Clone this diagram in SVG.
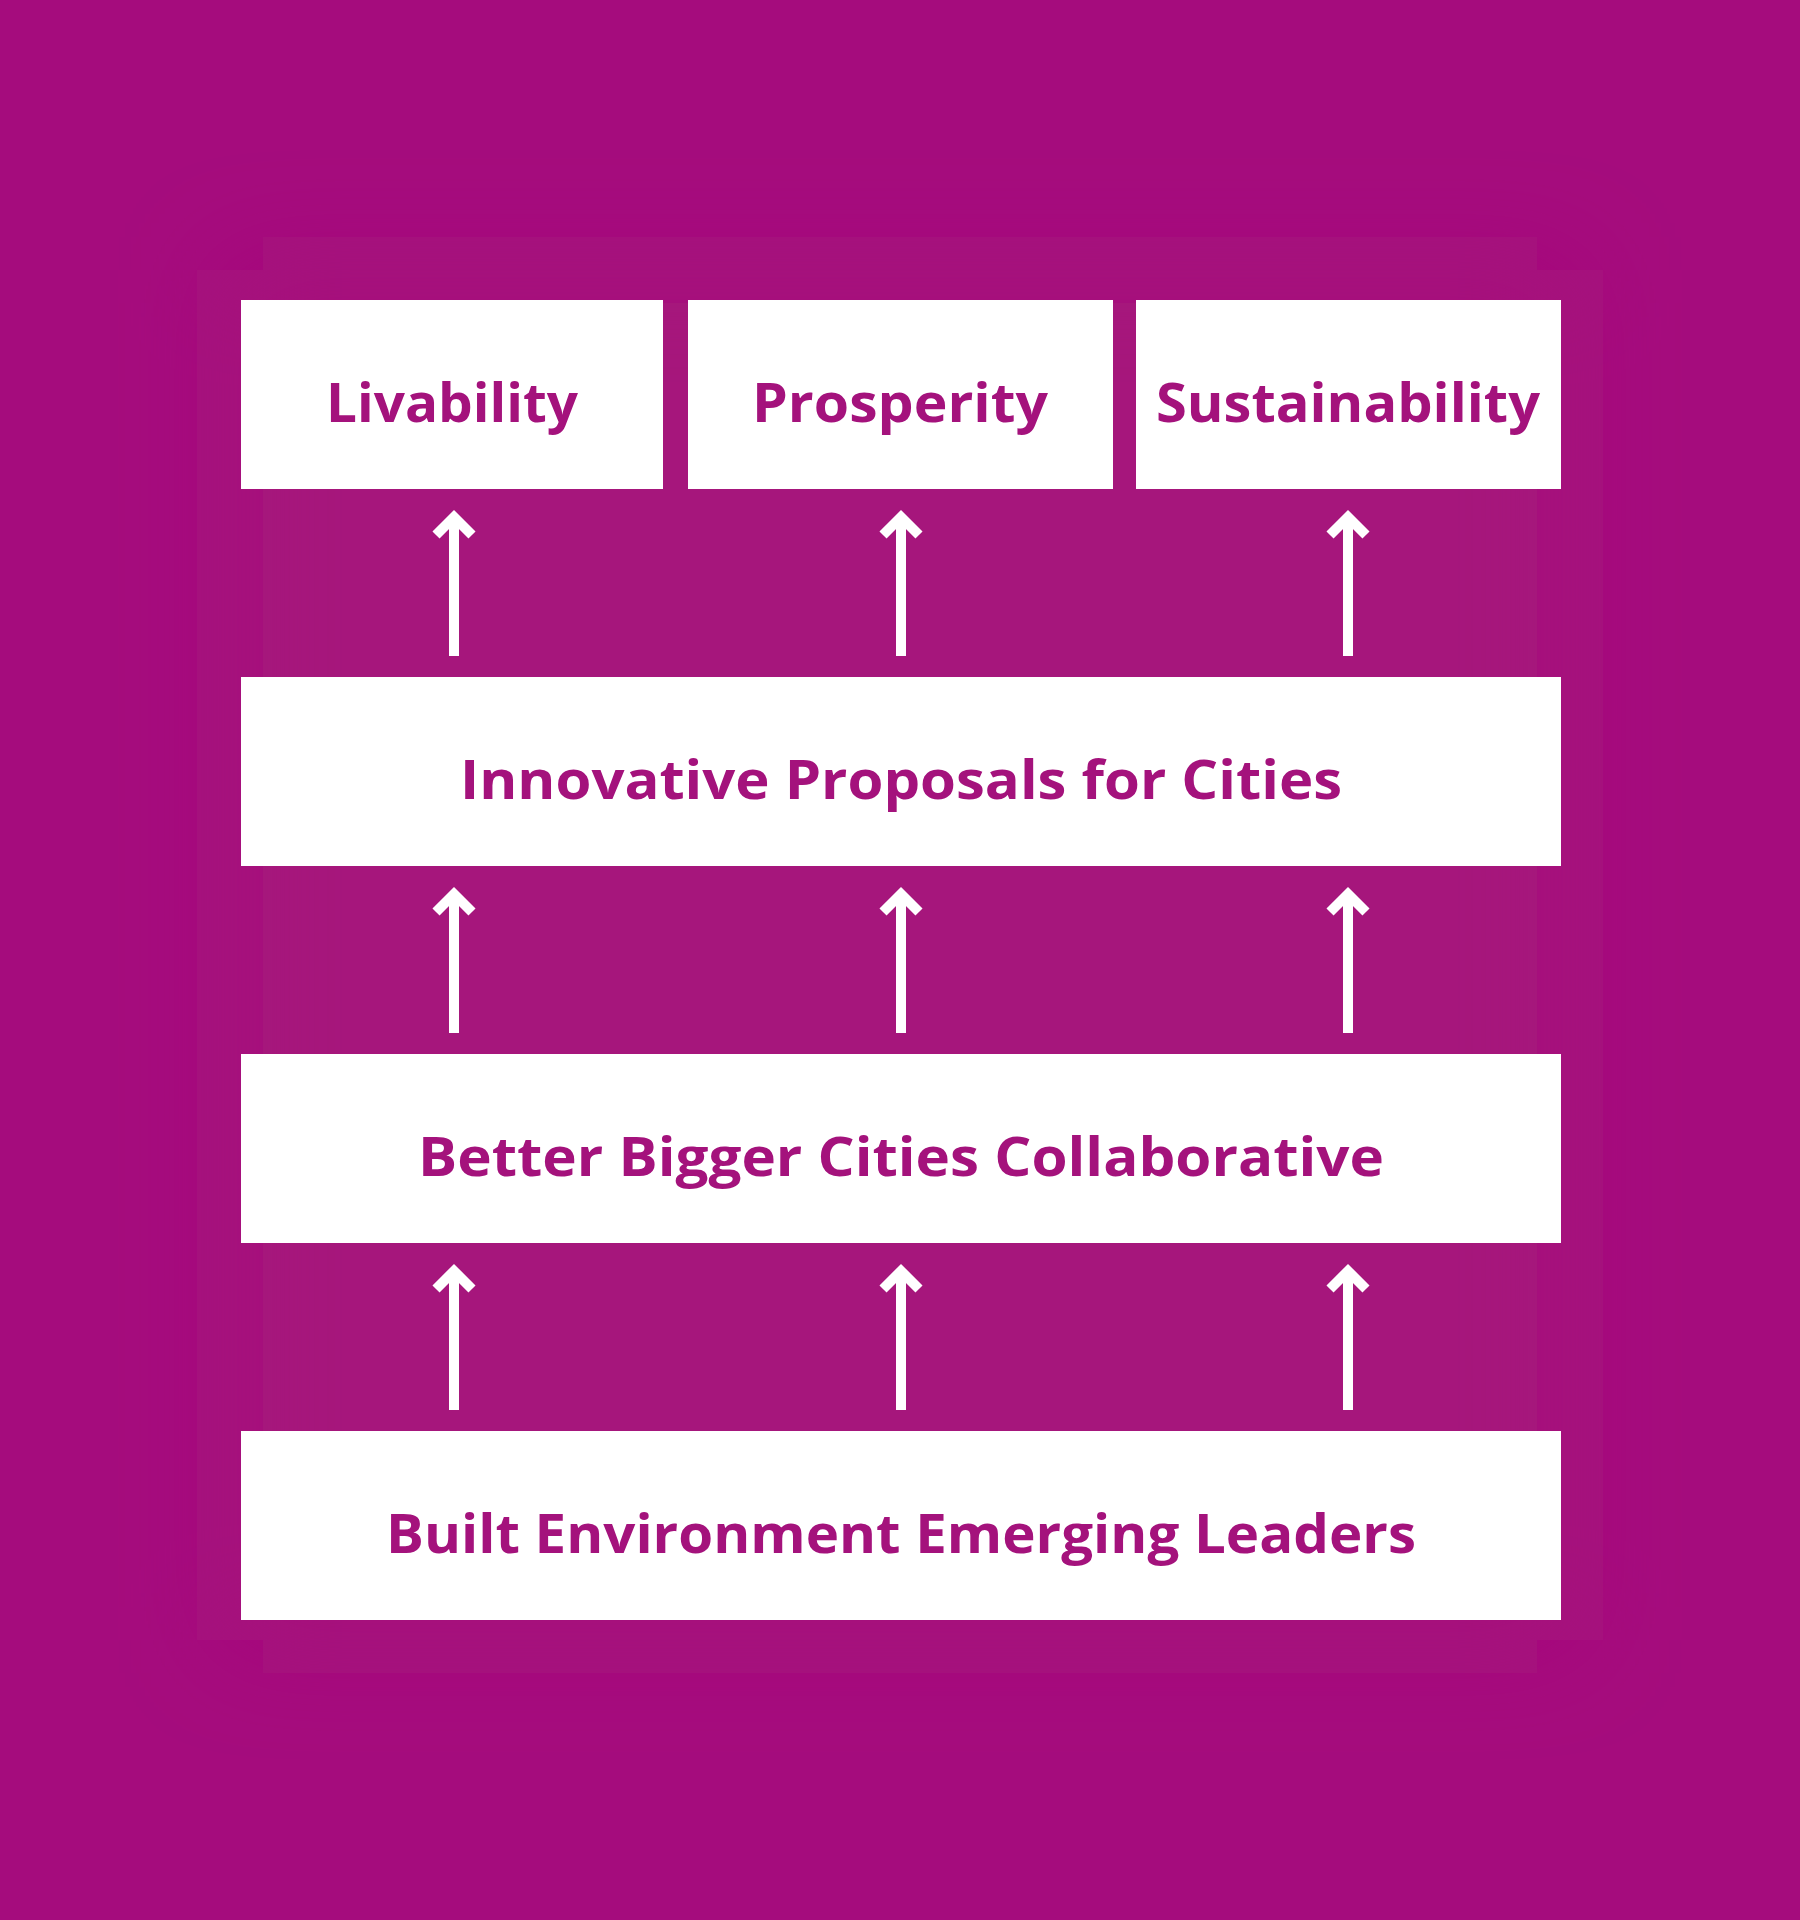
<svg xmlns="http://www.w3.org/2000/svg" width="1800" height="1920" viewBox="0 0 1800 1920">
<defs>
<filter id="soft" x="-20%" y="-20%" width="140%" height="140%"><feGaussianBlur stdDeviation="50"/></filter>
<style>
.box{fill:#ffffff}
.lbl{font-family:"Open Sans","Liberation Sans",sans-serif;font-weight:700;font-size:53px;fill:#A4127C;text-anchor:middle}
.arr{fill:none;stroke:#ffffff;stroke-width:10;stroke-linecap:butt;stroke-linejoin:miter}
</style>
</defs>
<rect x="0" y="0" width="1800" height="1920" fill="#A50C7D"/>
<rect x="230" y="270" width="1340" height="1370" fill="#A6167C" filter="url(#soft)"/>
<g id="livability"><rect class="box" x="241" y="300" width="422" height="189"/><text class="lbl" x="452" y="422" textLength="252" lengthAdjust="spacingAndGlyphs">Livability</text></g>
<g id="prosperity"><rect class="box" x="688" y="300" width="425" height="189"/><text class="lbl" x="900" y="422" textLength="296" lengthAdjust="spacingAndGlyphs">Prosperity</text></g>
<g id="sustainability"><rect class="box" x="1136" y="300" width="425" height="189"/><text class="lbl" x="1348" y="422" textLength="384" lengthAdjust="spacingAndGlyphs">Sustainability</text></g>
<g id="innovative"><rect class="box" x="241" y="677" width="1320" height="189"/><text class="lbl" x="901" y="799" textLength="882" lengthAdjust="spacingAndGlyphs">Innovative Proposals for Cities</text></g>
<g id="better"><rect class="box" x="241" y="1054" width="1320" height="189"/><text class="lbl" x="901" y="1176" textLength="966" lengthAdjust="spacingAndGlyphs">Better Bigger Cities Collaborative</text></g>
<g id="built"><rect class="box" x="241" y="1431" width="1320" height="189"/><text class="lbl" x="901" y="1553" textLength="1030" lengthAdjust="spacingAndGlyphs">Built Environment Emerging Leaders</text></g>
<g id="connectors">
<g id="row1">
<path class="arr" d="M454 656V517M436 535L454 517L472 535"/>
<path class="arr" d="M901 656V517M883 535L901 517L919 535"/>
<path class="arr" d="M1348 656V517M1330 535L1348 517L1366 535"/>
</g>
<g id="row2">
<path class="arr" d="M454 1033V894M436 912L454 894L472 912"/>
<path class="arr" d="M901 1033V894M883 912L901 894L919 912"/>
<path class="arr" d="M1348 1033V894M1330 912L1348 894L1366 912"/>
</g>
<g id="row3">
<path class="arr" d="M454 1410V1271M436 1289L454 1271L472 1289"/>
<path class="arr" d="M901 1410V1271M883 1289L901 1271L919 1289"/>
<path class="arr" d="M1348 1410V1271M1330 1289L1348 1271L1366 1289"/>
</g>
</g>
</svg>
